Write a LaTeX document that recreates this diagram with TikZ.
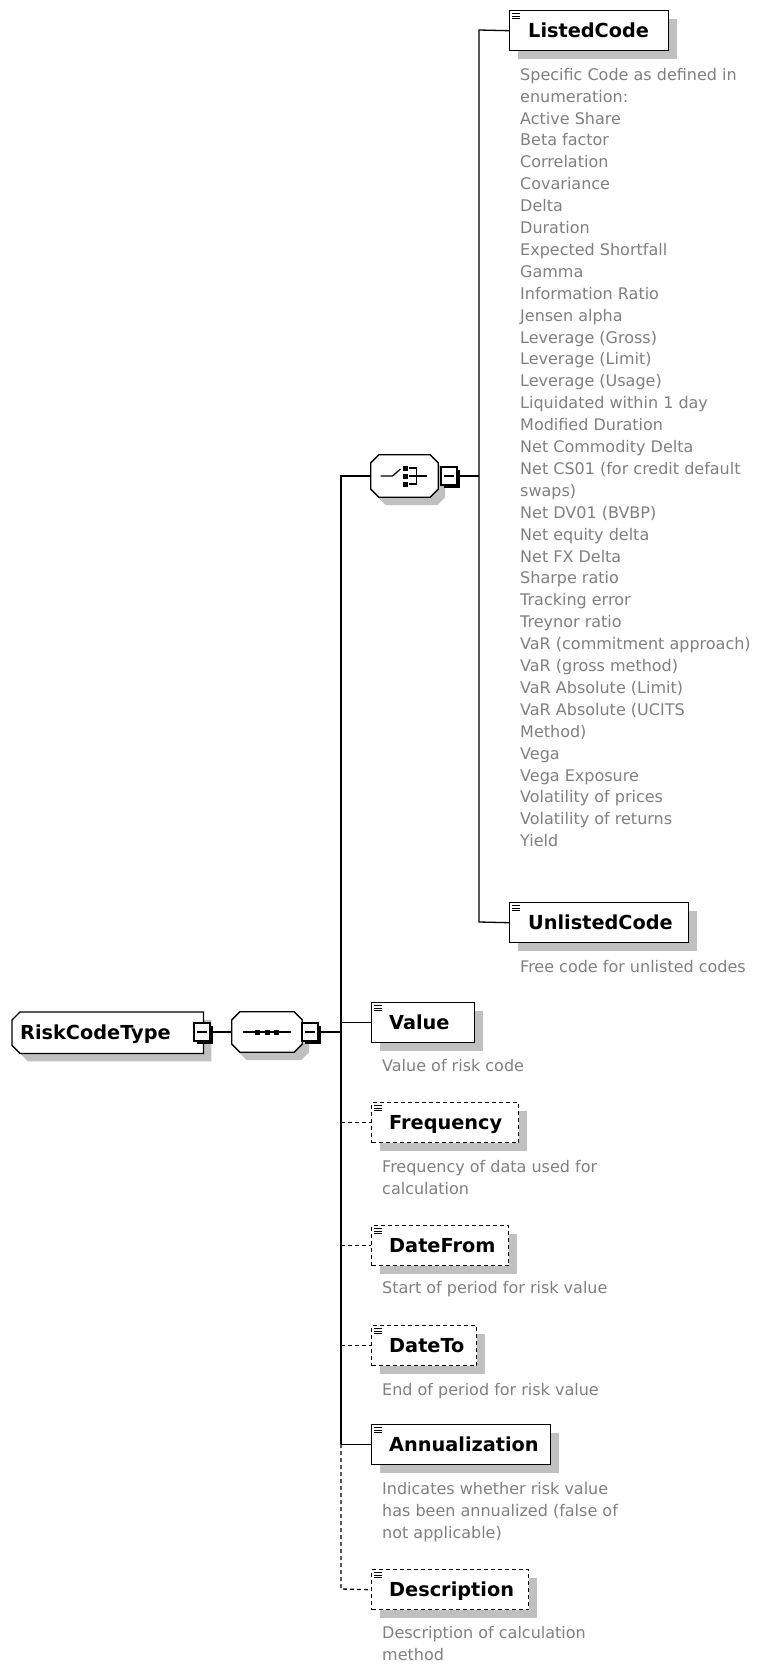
\documentclass[tikz,border=0pt]{standalone}
\usepackage{fontspec}
\setmainfont{DejaVu Sans}
\usetikzlibrary{calc,shadows}
\definecolor{shadegray}{RGB}{192,192,192}
\definecolor{descgray}{RGB}{128,128,128}
% octagon outline around a node: node, chamfer, dx, dy
\newcommand\octo[4]{($(#1.north west)+(#2+#3,#4)$) -- ($(#1.north east)+(-#2+#3,#4)$) -- ($(#1.north east)+(#3,#2+#4)$) -- ($(#1.south east)+(#3,-#2+#4)$) -- ($(#1.south east)+(-#2+#3,#4)$) -- ($(#1.south west)+(#2+#3,#4)$) -- ($(#1.south west)+(#3,-#2+#4)$) -- ($(#1.north west)+(#3,#2+#4)$) -- cycle}
% left-chamfered outline
\newcommand\rootpath[4]{($(#1.north west)+(#2+#3,#4)$) -- ($(#1.north east)+(#3,#4)$) -- ($(#1.south east)+(#3,#4)$) -- ($(#1.south west)+(#2+#3,#4)$) -- ($(#1.south west)+(#3,-#2+#4)$) -- ($(#1.north west)+(#3,#2+#4)$) -- cycle}
\begin{document}
\begin{tikzpicture}[x=1pt,y=-1pt,
  conn/.style={line width=1.3pt},
  optconn/.style={line width=1.3pt, dash pattern=on 4pt off 3pt},
  elembox/.style={rectangle, draw=black, fill=white, line width=1.4pt, minimum height=40pt, inner sep=0pt, anchor=north west, drop shadow={shadow xshift=8pt, shadow yshift=-8pt, fill=shadegray, opacity=1}},
  optbox/.style={elembox, dash pattern=on 4pt off 3pt},
  lbl/.style={font=\fontsize{19.3}{22}\selectfont\bfseries, anchor=west, inner sep=0pt, text height=14.1pt, text depth=0pt},
  desc/.style={font=\fontsize{16}{21.9}\selectfont, text=descgray, align=left, anchor=north west, inner sep=0pt},
  minusbox/.style={rectangle, draw=black, fill=white, line width=1.2pt, minimum width=16pt, minimum height=18pt, inner sep=0pt, drop shadow={shadow xshift=2.5pt, shadow yshift=-2.5pt, fill=black, opacity=1}},
  hub/.style={rectangle, inner sep=0pt, draw=none},
  iconline/.style={line width=0.9pt}
]
\useasboundingbox (0,0) rectangle (757,1665);
\fill[white] (0,0) rectangle (757,1665);

% ---- root ----
\node[hub, minimum width=191pt, minimum height=41pt, anchor=north west] (root) at (12,1012) {};
\fill[shadegray] \rootpath{root}{8}{8}{8};
\draw[line width=1.3pt, fill=white] \rootpath{root}{8}{0}{0};
\node[lbl] (rootL) at ($(root.west)+(8,0)$) {RiskCodeType};
\node[minusbox] (rootm) at (202,1032) {};
\draw[line width=1.2pt] ($(rootm.center)+(-5,0)$) -- ($(rootm.center)+(5,0)$);

% ---- sequence ----
\node[hub, minimum width=70pt, minimum height=40pt] (seq) at (267,1032) {};
\fill[shadegray] \octo{seq}{8}{7}{8};
\draw[line width=1.3pt, fill=white] \octo{seq}{8}{0}{0};
\draw[line width=1.3pt] ($(seq.center)+(-24,0)$) -- ($(seq.center)+(24,0)$);
\foreach \dx in {-9.5,0,9.5} \fill ($(seq.center)+(\dx-2.5,-2.5)$) rectangle +(5,5);
\node[minusbox] (seqm) at (310,1032) {};
\draw[line width=1.2pt] ($(seqm.center)+(-5,0)$) -- ($(seqm.center)+(5,0)$);

% ---- choice ----
\node[hub, minimum width=67pt, minimum height=42pt] (choice) at (404.5,476) {};
\fill[shadegray] \octo{choice}{8}{7}{8};
\draw[line width=1.3pt, fill=white] \octo{choice}{8}{0}{0};
\draw[line width=1.3pt] ($(choice.center)+(-24,0)$) -- ($(choice.center)+(-12,0)$) -- ($(choice.center)+(-4,-7)$);
\foreach \dy in {-8,0,8} \fill ($(choice.center)+(-1.5,\dy-2.5)$) rectangle +(5,5);
\draw[line width=1.3pt] ($(choice.center)+(4,-8)$) -- ($(choice.center)+(12,-8)$) -- ($(choice.center)+(12,8)$) -- ($(choice.center)+(4,8)$);
\draw[line width=1.3pt] ($(choice.center)+(4,0)$) -- ($(choice.center)+(22,0)$);
\node[minusbox] (choicem) at (449,476) {};
\draw[line width=1.2pt] ($(choicem.center)+(-5,0)$) -- ($(choicem.center)+(5,0)$);

% ---- elements ----
\node[elembox, minimum width=159pt] (listed) at (509,10) {};
\node[elembox, minimum width=179pt] (unlisted) at (509,902) {};
\node[elembox, minimum width=103pt] (value) at (371,1002) {};
\node[optbox, minimum width=147pt] (freq) at (371,1102) {};
\node[optbox, minimum width=137pt] (dfrom) at (371,1225) {};
\node[optbox, minimum width=105pt] (dto) at (371,1325) {};
\node[elembox, minimum width=179pt] (annual) at (371,1424) {};
\node[optbox, minimum width=157pt] (descr) at (371,1569) {};

\foreach \n in {listed,unlisted,value,freq,dfrom,dto,annual,descr} {
  \draw[iconline] ($(\n.north west)+(3,3.5)$) -- +(8,0)
                  ($(\n.north west)+(3,6)$) -- +(8,0)
                  ($(\n.north west)+(3,8.5)$) -- +(8,0);
}

\node[lbl] (listedL) at ($(listed.west)+(19,0)$) {ListedCode};
\node[lbl] (unlistedL) at ($(unlisted.west)+(19,0)$) {UnlistedCode};
\node[lbl] (valueL) at ($(value.west)+(18,0)$) {Value};
\node[lbl] (freqL) at ($(freq.west)+(18,0)$) {Frequency};
\node[lbl] (dfromL) at ($(dfrom.west)+(18,0)$) {DateFrom};
\node[lbl] (dtoL) at ($(dto.west)+(18,0)$) {DateTo};
\node[lbl] (annualL) at ($(annual.west)+(18,0)$) {Annualization};
\node[lbl] (descrL) at ($(descr.west)+(18,0)$) {Description};

% ---- descriptions ----
\node[desc] (listedD) at (520,64.7) {\strut Specific Code as defined in\\enumeration:\\Active Share\\Beta factor\\Correlation\\Covariance\\Delta\\Duration\\Expected Shortfall\\Gamma\\Information Ratio\\Jensen alpha\\Leverage (Gross)\\Leverage (Limit)\\Leverage (Usage)\\Liquidated within 1 day\\Modified Duration\\Net Commodity Delta\\Net CS01 (for credit default\\swaps)\\Net DV01 (BVBP)\\Net equity delta\\Net FX Delta\\Sharpe ratio\\Tracking error\\Treynor ratio\\VaR (commitment approach)\\VaR (gross method)\\VaR Absolute (Limit)\\VaR Absolute (UCITS\\Method)\\Vega\\Vega Exposure\\Volatility of prices\\Volatility of returns\\Yield};
\node[desc] (unlistedD) at (520,956.7) {\strut Free code for unlisted codes};
\node[desc] (valueD) at (382,1055.7) {\strut Value of risk code};
\node[desc] (freqD) at (382,1156.7) {\strut Frequency of data used for\\calculation};
\node[desc] (dfromD) at (382,1277.7) {\strut Start of period for risk value};
\node[desc] (dtoD) at (382,1379.7) {\strut End of period for risk value};
\node[desc] (annualD) at (382,1478.7) {\strut Indicates whether risk value\\has been annualized (false of\\not applicable)};
\node[desc] (descrD) at (382,1622.7) {\strut Description of calculation\\method};

% ---- connectors ----
\coordinate (vtop) at (341,476);
\coordinate (vjoin) at (341,1032);
\coordinate (vann) at (341,1444);
\coordinate (vbot) at (341,1589);
\coordinate (ctop) at (479,30);
\coordinate (cbot) at (479,922);

\draw[conn] (rootm.east) -- (seq.west);
\draw[conn] (seqm.east) -- (vjoin);
\draw[conn] (choice.west) -- (vtop) -- (vann);
\draw[optconn] (vann) -- (vbot) -- (descr.west);
\draw[conn] (value.west -| vtop) -- (value.west);
\draw[optconn] (freq.west -| vtop) -- (freq.west);
\draw[optconn] (dfrom.west -| vtop) -- (dfrom.west);
\draw[optconn] (dto.west -| vtop) -- (dto.west);
\draw[conn] (annual.west -| vtop) -- (annual.west);
\draw[conn] (choicem.east) -- (choicem.east -| ctop);
\draw[conn] (listed.west) -- (ctop) -- (cbot) -- (unlisted.west);
\end{tikzpicture}
\end{document}
